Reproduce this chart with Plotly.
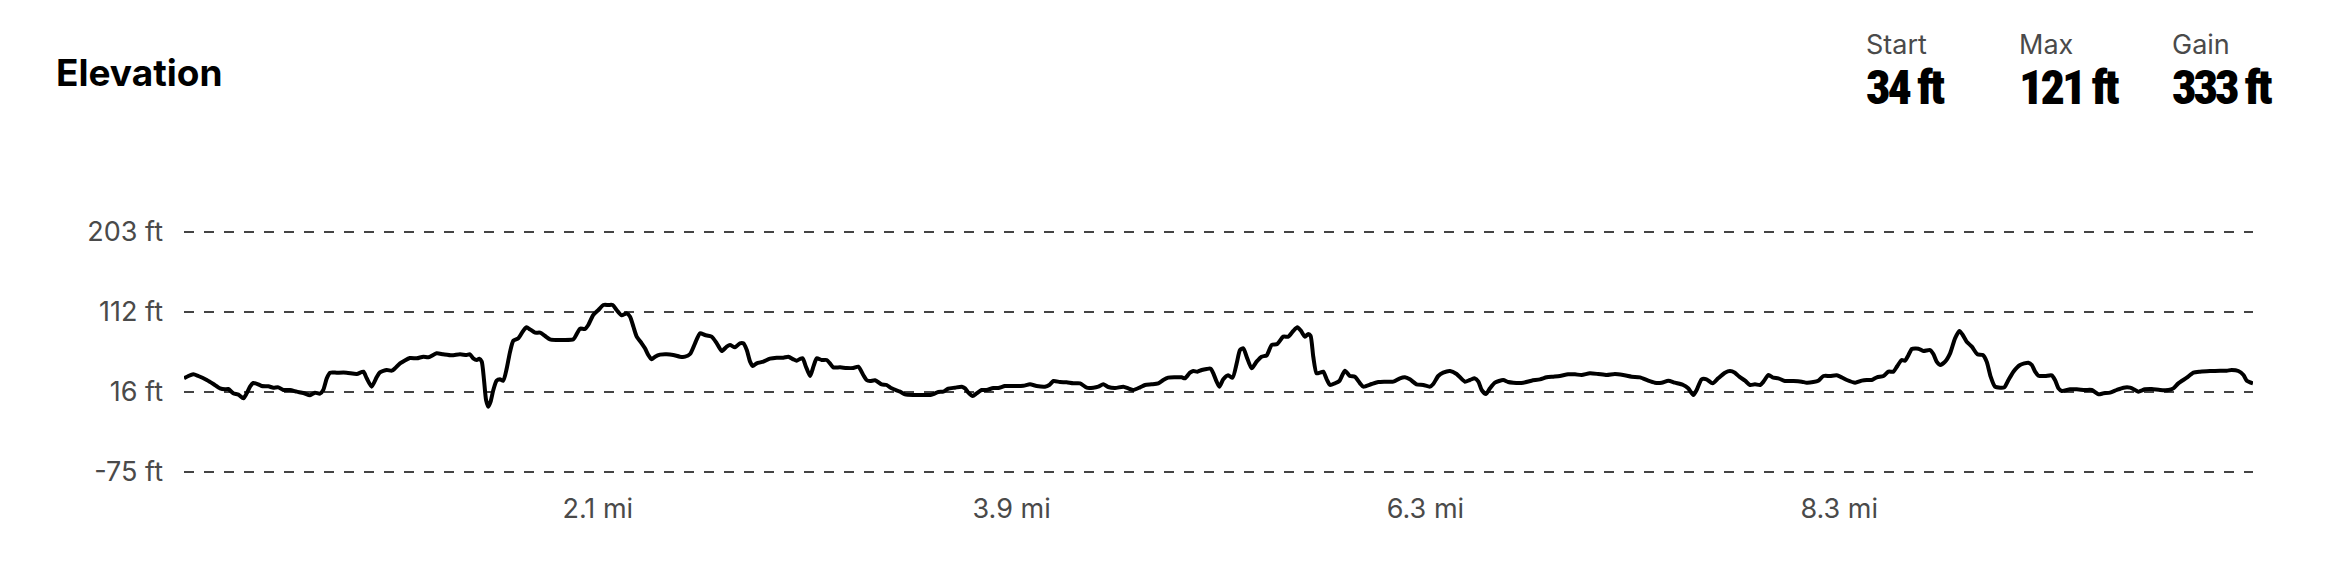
import plotly.graph_objects as go

# elevation profile traced along the route (% of route, feet)
route_pct = [
    0.0, 0.21, 0.45, 0.69, 1.10, 1.42, 1.74, 1.98, 2.14, 2.38, 2.63, 2.87, 3.03, 3.19, 3.35, 3.59,
    3.75, 4.08, 4.32, 4.56, 4.80, 5.12, 5.45, 5.77, 6.09, 6.33, 6.57, 6.73, 6.90, 7.06, 7.38, 7.86,
    8.35, 8.67, 8.83, 9.07, 9.31, 9.47, 9.80, 10.04, 10.20, 10.44, 10.92, 11.25, 11.57, 11.81, 12.21,
    12.53, 12.94, 13.34, 13.66, 13.82, 13.98, 14.15, 14.27, 14.39, 14.50, 14.60, 14.71, 14.82, 14.95,
    15.11, 15.27, 15.43, 15.60, 15.76, 15.92, 16.16, 16.40, 16.56, 16.72, 16.97, 17.21, 17.45, 17.69,
    18.01, 18.33, 18.82, 18.98, 19.14, 19.38, 19.54, 19.78, 20.03, 20.27, 20.51, 20.72, 20.91, 21.15,
    21.40, 21.56, 21.72, 21.88, 22.12, 22.28, 22.44, 22.60, 22.77, 23.01, 23.33, 23.65, 23.97, 24.22,
    24.46, 24.70, 24.94,
    25.18, 25.50, 25.75, 25.99, 26.23, 26.39, 26.63, 26.87, 27.03, 27.20, 27.36, 27.49, 27.68, 28.00,
    28.32, 28.65, 28.97, 29.21, 29.45, 29.61, 29.77, 29.90, 30.06, 30.26, 30.42, 30.58, 30.82, 31.06,
    31.22, 31.38, 31.71, 32.03, 32.35, 32.59, 32.83, 32.99, 33.16, 33.40, 33.72, 33.96, 34.20, 34.61,
    34.85, 35.25, 35.73, 36.06, 36.22, 36.46, 36.70, 36.94, 37.26, 37.59, 37.75, 37.91, 38.12, 38.31,
    38.55, 38.79, 39.12, 39.36, 39.68, 40.08, 40.57, 40.89, 41.21, 41.61, 41.82, 42.02, 42.34, 42.66,
    42.98, 43.31, 43.63, 43.95, 44.19, 44.43, 44.67, 45.00, 45.40, 45.64, 45.88, 46.21, 46.45, 46.77,
    47.09, 47.33, 47.57, 47.90, 48.22, 48.38, 48.62, 48.78, 48.98, 49.19, 49.43, 49.62, 49.75, 49.91,
    50.04,
    50.23, 50.47, 50.68, 50.88, 51.04, 51.20, 51.36, 51.60, 51.84, 52.08, 52.33, 52.57, 52.84, 53.13,
    53.37, 53.61, 53.81, 53.98, 54.18, 54.34, 54.45, 54.58, 54.74, 54.90, 55.06, 55.23, 55.39, 55.63,
    55.84, 56.11, 56.35, 56.59, 56.84, 57.00, 57.40, 57.72, 58.04, 58.45, 58.77, 59.01, 59.25, 59.57,
    59.90, 60.22, 60.38, 60.62, 60.86, 61.19, 61.51, 61.91, 62.15, 62.39, 62.56, 62.72, 62.93, 63.12,
    63.36, 63.76, 64.00, 64.25, 64.73, 65.13, 65.54, 65.86, 66.18, 66.50, 66.90, 67.23, 67.55, 67.95,
    68.35, 68.76, 69.16, 69.56, 69.97, 70.37, 70.77, 71.09, 71.42, 71.74, 72.06, 72.46, 72.70, 72.95,
    73.11, 73.35, 73.59, 73.88, 74.15, 74.48, 74.72, 74.96, 75.17,
    75.45, 75.69, 75.93, 76.18, 76.34, 76.58, 76.82, 77.06, 77.38, 77.79, 78.19, 78.43, 78.75, 78.99,
    79.24, 79.56, 79.88, 80.12, 80.37, 80.77, 81.09, 81.33, 81.57, 81.82, 82.14, 82.38, 82.62, 82.81,
    83.02, 83.18, 83.35, 83.51, 83.83, 84.07, 84.39, 84.55, 84.71, 84.88, 85.12, 85.36, 85.60, 85.81,
    85.97, 86.16, 86.41, 86.68, 86.94, 87.13, 87.32, 87.53, 87.78, 87.98, 88.18, 88.42, 88.74, 89.14,
    89.31, 89.47, 89.63, 89.95, 90.27, 90.43, 90.60, 90.76, 91.16, 91.48, 91.88, 92.21, 92.53, 92.77,
    93.09, 93.41, 93.74, 94.06, 94.30, 94.46, 94.78, 95.11, 95.51, 95.91, 96.15, 96.39, 96.80, 97.12,
    97.44, 97.92, 98.41, 98.73, 98.97, 99.29, 99.54, 99.70, 100.0,
]
elevation_ft = [
    32, 34.8, 36.8, 34.8, 30, 25.2, 20, 18.8, 19.2, 14, 12.4, 8, 14, 22, 26.4, 24.8,
    22.8, 22.4, 20.8, 21.2, 18, 18, 16, 14.4, 11.6, 14.8, 13.6, 18, 32, 38.8, 38.8, 38.8,
    37.2, 40, 32, 22, 33.2, 39.2, 42, 41.2, 44, 50, 56.4, 56, 58, 57.2, 62,
    60.8, 59.6, 60.8, 60, 60.8, 56, 54, 55.6, 52, 30, 6, -2, 4, 18,
    29.2, 30.8, 29.2, 44, 64, 77.2, 80, 89.2, 93.2, 90.8, 86.8, 86.8, 82.8, 78.8,
    78, 78, 78.8, 85.2, 91.6, 91.2, 96, 108, 114, 120, 120, 120, 114, 107.6,
    110, 106, 94, 82, 74, 68, 60, 54.8, 58, 60.4, 60.8, 60, 58, 58,
    61.2, 74, 86,
    84, 82, 74, 64.8, 70, 72, 69.2, 74, 74, 66, 52, 46.8, 50, 52,
    55.6, 56.8, 56.8, 58, 54.8, 53.2, 55.2, 56, 46, 34.8, 46, 56, 54, 54,
    50, 45.2, 45.2, 44.4, 44.4, 46, 36, 30, 28.8, 29.6, 24.8, 24, 20, 16,
    12.8, 12, 12, 12, 13.2, 15.6, 16, 19.6, 20.8, 22, 20, 14.8, 10.8, 14,
    18, 18, 20.4, 20.4, 22.8, 22.8, 23.2, 24.8, 22.8, 22, 24, 28.8, 27.6, 27.2,
    26, 26, 20.8, 20.8, 22, 24.8, 21.6, 20.4, 22, 20, 18, 21.2, 24, 24.8,
    26, 30, 32.8, 33.2, 33.2, 32, 38.8, 40.8, 40, 42, 43.2, 43.6, 38, 28,
    22,
    30.8, 35.6, 32.8, 50, 66, 68, 58, 44, 52, 58, 59.6, 72, 73.2, 82,
    82, 88.8, 93.2, 89.2, 82, 85.2, 83.2, 58, 38, 38.8, 40, 30.8, 24, 26,
    28.8, 41.2, 34.8, 34, 26, 22, 25.2, 27.6, 28, 28, 32, 33.2, 30.8, 24.8,
    24, 22, 25.2, 34.8, 38.8, 40.8, 37.2, 28, 30, 32, 28, 18, 13.2, 20,
    26.8, 30, 27.6, 26.8, 26.8, 29.2, 30.8, 33.2, 34, 34.8, 36.8, 36.8, 36, 38,
    37.2, 36, 37.2, 36, 34, 33.2, 29.2, 26.8, 26.8, 29.2, 26.8, 24, 20, 12,
    18, 30.8, 30.8, 26, 32, 38.8, 40.8, 38.8, 34,
    29.2, 24, 24.8, 24, 28, 36, 32.8, 32, 28.8, 28.8, 28, 26.8, 27.6, 29.2,
    34.8, 34.8, 35.6, 33.2, 30, 26.8, 29.2, 30, 30, 33.2, 34.8, 40, 40, 46.8,
    54, 53.2, 60, 67.2, 67.6, 64.8, 66, 61.2, 52, 48, 52, 62, 80, 88.8,
    84, 76, 70, 60.8, 60, 52, 34, 22, 20.8, 21.2, 30, 40, 48, 50.8,
    48, 40, 35.2, 34.8, 35.6, 30, 20, 16.8, 18.8, 18.8, 18, 18, 12.8, 14,
    14.8, 18, 20.8, 20.8, 18, 16, 18.8, 19.2, 18, 18, 20, 26, 32.8, 38.8,
    40, 40.8, 41.2, 41.2, 42, 40.8, 36, 29.2, 26,
]

grid_ft = [-80, 16, 112, 208]
grid_labels = ["-75 ft", "16 ft", "112 ft", "203 ft"]
dist_ticks = [20, 40, 60, 80]
dist_labels = ["2.1 mi", "3.9 mi", "6.3 mi", "8.3 mi"]
stat_names = ["Start", "Max", "Gain"]
stat_values = ["34 ft", "121 ft", "333 ft"]

FONT = "Inter, Roboto, sans-serif"
NARROW = ("Roboto Condensed, Noto Sans ExtraCondensed, Noto Sans Condensed, "
          "Liberation Sans Narrow, Liberation Sans, sans-serif")
GREY = "#4a4a4a"

# the page body adds an 8px margin, so the figure is a bit smaller than the window
W, H = 2332, 554
PLOT_L, PLOT_R, PLOT_T, PLOT_B = 176, 2245, 192, 482
plot_w = PLOT_R - PLOT_L
plot_h = PLOT_B - PLOT_T

fig = go.Figure()
fig.add_trace(go.Scatter(
    x=route_pct,
    y=elevation_ft,
    mode="lines",
    line=dict(color="#000000", width=4, shape="spline", smoothing=0.6),
    hoverinfo="skip",
    showlegend=False,
))

# Start / Max / Gain summary in the top right corner
annotations = []
for i, (name, value) in enumerate(zip(stat_names, stat_values)):
    x = (1856 - PLOT_L) / plot_w + i * 0.07395
    annotations.append(dict(
        x=x, y=(PLOT_B - 37) / plot_h, xref="paper", yref="paper",
        xanchor="left", yanchor="middle",
        text=name, showarrow=False, font=dict(family=FONT, size=27, color=GREY),
    ))
    annotations.append(dict(
        x=x, y=(PLOT_B - 80) / plot_h, xref="paper", yref="paper",
        xanchor="left", yanchor="middle",
        text=f'<span style="letter-spacing:-3px">{value}</span>', showarrow=False,
        font=dict(family=NARROW, size=48, color="#000000", weight=900),
    ))

fig.update_layout(
    width=W,
    height=H,
    paper_bgcolor="white",
    plot_bgcolor="white",
    margin=dict(l=PLOT_L, r=W - PLOT_R, t=PLOT_T, b=H - PLOT_B),
    title=dict(
        text="<b>Elevation</b>",
        x=48 / W, xanchor="left", xref="container",
        y=1 - 65 / H, yanchor="middle", yref="container",
        font=dict(family=FONT, size=37, color="#000000"),
    ),
    xaxis=dict(
        range=[0, 100],
        tickvals=dist_ticks,
        ticktext=dist_labels,
        showgrid=False,
        zeroline=False,
        showline=False,
        ticks="",
        tickfont=dict(family=FONT, size=27, color=GREY),
    ),
    yaxis=dict(
        range=[-102, 246],
        tickvals=grid_ft,
        ticktext=grid_labels,
        showgrid=True,
        gridcolor="#444444",
        gridwidth=2,
        griddash="10px,10px",
        zeroline=False,
        showline=False,
        ticks="",
        ticklabelstandoff=20,
        tickfont=dict(family=FONT, size=27, color=GREY),
    ),
    annotations=annotations,
)

fig.write_html("out.html")
